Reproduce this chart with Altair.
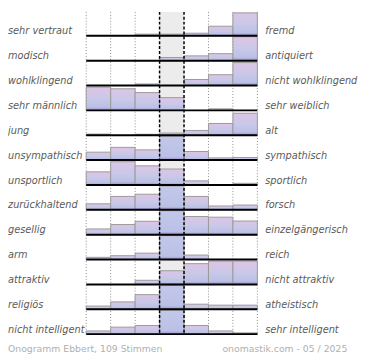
import altair as alt
import pandas as pd

# ---- data ----
left_labels = ["sehr vertraut", "modisch", "wohlklingend", "sehr männlich", "\u00a0jung",
               "unsympathisch", "unsportlich", "zurückhaltend", "gesellig", "arm",
               "attraktiv", "religiös", "nicht intelligent"]
right_labels = ["fremd", "antiquiert", "nicht wohlklingend", "sehr weiblich", "alt",
                "sympathisch", "sportlich", "forsch", "einzelgängerisch", "reich",
                "nicht attraktiv", "atheistisch", "sehr intelligent"]
# bar heights per row, 7 answer columns (25 = full row, >25 = clipped at the row top)
values = [
    [0, 0, 1.7, 1.7, 2.7, 10, 24],
    [0, 0, 0, 3.3, 5, 7.3, 25],
    [0, 0, 1.6, 0, 6.3, 11.3, 24],
    [24.3, 22.6, 18.6, 13.3, 0, 1.6, 0],
    [1.2, 0, 1, 2.3, 5, 12.3, 23],
    [8.3, 13.3, 10.7, 26, 9, 2.3, 2.7],
    [13.7, 24.3, 20, 16.7, 4.3, 0, 1.7],
    [6.3, 14, 16.3, 26, 14, 4, 5],
    [6, 10.6, 14, 26, 19, 18.3, 14.3],
    [2.3, 4, 6.7, 26, 4.7, 0, 0],
    [0, 0, 4.3, 14.3, 21.7, 24.3, 24.3],
    [3.3, 7.7, 15.3, 26, 5.3, 4.3, 4.3],
    [3.3, 7.3, 9, 26, 9, 3.3, 1.3],
]
footer_left = "Onogramm Ebbert, 109 Stimmen"
footer_right = "onomastik.com - 05 / 2025"
dotted_bounds = [0, 1, 2, 5, 6, 7]
dashed_bounds = [3, 4]

bars = pd.DataFrame([{"row": i, "col": j, "v": v}
                     for i, r in enumerate(values) for j, v in enumerate(r)])
rows = pd.DataFrame({"row": list(range(len(left_labels))),
                     "left": left_labels, "right": right_labels})
dotted = pd.DataFrame({"b": dotted_bounds})
dashed = pd.DataFrame({"b": dashed_bounds})
footer = pd.DataFrame({"l": [footer_left], "r": [footer_right]})

xs = alt.Scale(domain=[0, 7], range=[80, 255])
ys = alt.Scale(domain=[0, 360], range=[0, 352])
FONT = "DejaVu Sans"

grad_main = alt.Gradient(
    gradient="linear", x1=0, x2=0, y1=0, y2=1,
    stops=[alt.GradientStop(color="#ddc5e6", offset=0),
           alt.GradientStop(color="#c9c8e8", offset=0.5),
           alt.GradientStop(color="#bac1e6", offset=0.86),
           alt.GradientStop(color="#9d8fcc", offset=1)])
grad_clip = alt.Gradient(
    gradient="linear", x1=0, x2=0, y1=0, y2=1,
    stops=[alt.GradientStop(color="#c3c8ea", offset=0),
           alt.GradientStop(color="#bac1e6", offset=0.86),
           alt.GradientStop(color="#9d8fcc", offset=1)])

bg = alt.Chart(footer).mark_rect(color="#ececec").encode(
    x=alt.XDatum(3, scale=xs, axis=None), x2=alt.X2Datum(4),
    y=alt.YDatum(0, scale=ys, axis=None), y2=alt.Y2Datum(338))

dots = alt.Chart(dotted).mark_rule(color="#8a8a8a", strokeDash=[1, 2], strokeWidth=1).encode(
    x=alt.X("b:Q", scale=xs, axis=None),
    y=alt.YDatum(0, scale=ys, axis=None), y2=alt.Y2Datum(338))

bar_base = alt.Chart(bars).transform_filter("datum.v > 0").transform_calculate(
    base="25 + 26 * datum.row",
    h="min(datum.v, 25)",
    top="datum.base - datum.h",
    c2="datum.col + 1")

enc = dict(x=alt.X("col:Q", scale=xs, axis=None), x2="c2:Q",
           y=alt.Y("top:Q", scale=ys, axis=None), y2="base:Q")

bars_main = bar_base.transform_filter("datum.v <= 25").mark_bar(
    fill=grad_main, stroke="#9a9a9a", strokeWidth=1).encode(**enc)
bars_clip = bar_base.transform_filter("datum.v > 25").mark_bar(
    fill=grad_clip, stroke="#9a9a9a", strokeWidth=1).encode(**enc)

dash = alt.Chart(dashed).mark_rule(color="black", strokeDash=[3, 2], strokeWidth=1.5).encode(
    x=alt.X("b:Q", scale=xs, axis=None),
    y=alt.YDatum(0, scale=ys, axis=None), y2=alt.Y2Datum(338))

row_base = alt.Chart(rows).transform_calculate(
    base="25 + 26 * datum.row", ty="datum.base - 1.5")

baselines = row_base.mark_rule(color="black", strokeWidth=2).encode(
    x=alt.XDatum(0, scale=xs, axis=None), x2=alt.X2Datum(7),
    y=alt.Y("base:Q", scale=ys, axis=None))

txt = dict(font=FONT, fontSize=10, fontStyle="italic", color="#5a5a5a", baseline="alphabetic")
left_txt = row_base.mark_text(align="left", **txt).encode(
    x=alt.value(0), y=alt.Y("ty:Q", scale=ys, axis=None), text="left:N")
right_txt = row_base.mark_text(align="left", **txt).encode(
    x=alt.value(263), y=alt.Y("ty:Q", scale=ys, axis=None), text="right:N")

ftxt = dict(font=FONT, fontSize=9.5, color="#b0b0b0", baseline="alphabetic")
foot_l = alt.Chart(footer).mark_text(align="left", **ftxt).encode(
    x=alt.value(0), y=alt.YDatum(356, scale=ys, axis=None), text="l:N")
foot_r = alt.Chart(footer).mark_text(align="right", **ftxt).encode(
    x=alt.value(347), y=alt.YDatum(356, scale=ys, axis=None), text="r:N")

chart = alt.layer(bg, dots, bars_main, bars_clip, dash, baselines,
                  left_txt, right_txt, foot_l, foot_r).properties(
    width=362, height=352, autosize=alt.AutoSizeParams(type="none"), padding=0,
    background="white"
).configure_view(stroke=None)

chart.save("out.html", embed_options={"renderer": "svg", "actions": False})
